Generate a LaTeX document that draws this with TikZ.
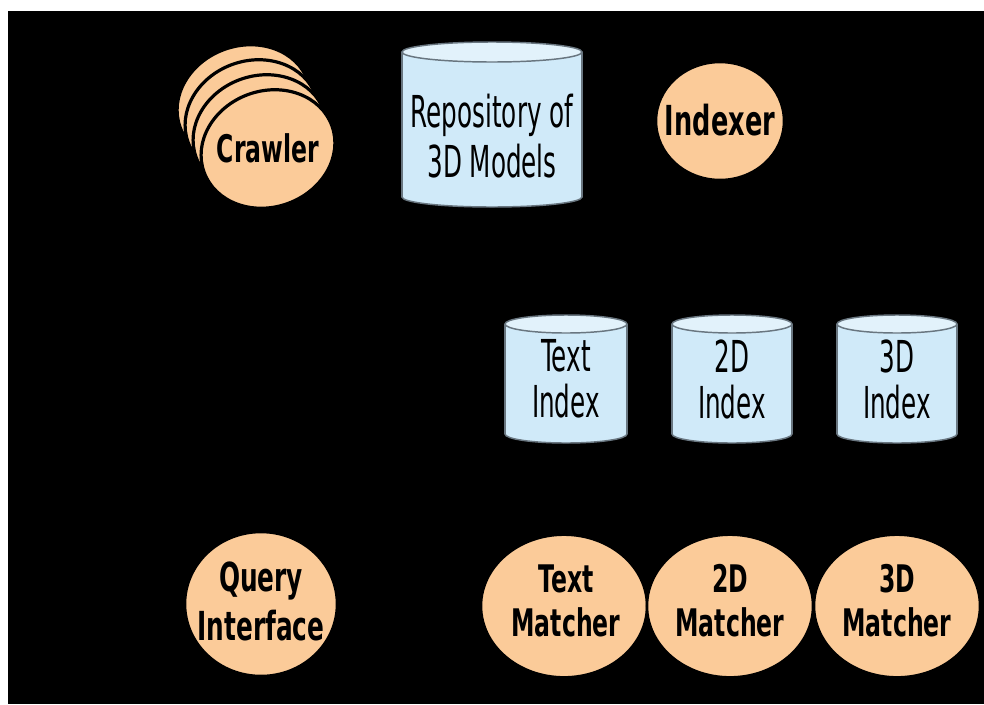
\documentclass[tikz,border=0pt]{standalone}
\usepackage{fontspec}
\usetikzlibrary{shapes.geometric}
\newfontfamily\procfont{DejaVu Sans}[FakeStretch=0.62]
\newfontfamily\storefont{DejaVu Sans}[FakeStretch=0.56]
\definecolor{peach}{RGB}{251,203,153}
\definecolor{icebody}{RGB}{208,234,249}
\definecolor{icetop}{RGB}{226,242,251}
\definecolor{icerim}{RGB}{105,118,128}
\tikzset{
  proc/.style={ellipse, fill=peach, draw=black, line width=1.9pt, inner sep=0pt},
  stackedge/.style={fill=peach, draw=black, line width=2.4pt},
  proctext/.style={align=center, text=black},
  storetext/.style={align=center, text=black, inner sep=0pt},
  rim/.style={draw=icerim, line width=1.1pt},
}
% database drawn as a cylinder: cx, top cap centre y, half width, bottom cap centre y, cap radius
\newcommand\storecyl[5]{%
  \filldraw[fill=icebody, rim] (#1,#4) ellipse [x radius=#3*0.75pt, y radius=#5*0.75pt];
  \fill[icebody] (#1-#3,#2) rectangle (#1+#3,#4);
  \draw[rim] (#1-#3,#2) -- (#1-#3,#4);
  \draw[rim] (#1+#3,#2) -- (#1+#3,#4);
  \filldraw[fill=icetop, rim] (#1,#2) ellipse [x radius=#3*0.75pt, y radius=#5*0.75pt];
}
% one tilted disc of the crawler stack
\newcommand\crawldisc[2]{%
  \filldraw[stackedge, rotate around={20:(#1,#2)}] (#1,#2) ellipse [x radius=51pt, y radius=43.5pt];
}
\begin{document}
\begin{tikzpicture}[x=0.75pt, y=-0.75pt]
\fill[white] (0,0) rectangle (984,704);
\fill[black] (8,11) rectangle (984,704);
\useasboundingbox (0,0) rectangle (984,704);

% crawler stack, back to front
\crawldisc{244}{104}
\crawldisc{252}{119}
\crawldisc{260}{134}
\crawldisc{268}{149}
\node[proctext, font={\procfont\bfseries\fontsize{28.5}{34}\selectfont}] (crawler) at (268,148) {Crawler};

% model repository
\storecyl{492}{52}{90}{197}{10}
\node[storetext, font={\storefont\fontsize{33}{37.5}\selectfont}] (repo) at (492,136) {Repository of\\3D Models};

% indexer
\node[proc, minimum width=96pt, minimum height=88.5pt] (indexer) at (720,121) {};
\node[proctext, font={\procfont\bfseries\fontsize{31}{36}\selectfont}] (indexerlbl) at (720,120) {Indexer};

% index stores
\storecyl{566}{324}{61}{434}{9}
\storecyl{732}{324}{60}{434}{9}
\storecyl{897}{324}{60}{434}{9}
\node[storetext, font={\storefont\fontsize{33}{34.5}\selectfont}] (textidx) at (566,379) {Text\\Index};
\node[storetext, font={\storefont\fontsize{33}{34.5}\selectfont}] (idx2d) at (732,379) {2D\\Index};
\node[storetext, font={\storefont\fontsize{33}{34.5}\selectfont}] (idx3d) at (897,379) {3D\\Index};

% query interface and matchers
\node[proc, minimum width=114pt, minimum height=108pt] (query) at (261,604) {};
\node[proctext, font={\procfont\bfseries\fontsize{30}{36.75}\selectfont}] (querylbl) at (261,601) {Query\\Interface};

\node[proc, minimum width=124.5pt, minimum height=107pt] (textm) at (564,606) {};
\node[proc, minimum width=124.5pt, minimum height=107pt] (m2d) at (730,606) {};
\node[proc, minimum width=124.5pt, minimum height=107pt] (m3d) at (897,606) {};
\node[proctext, font={\procfont\bfseries\fontsize{28.5}{33}\selectfont}] (textmlbl) at (566,601) {Text\\Matcher};
\node[proctext, font={\procfont\bfseries\fontsize{28.5}{33}\selectfont}] (m2dlbl) at (730,601) {2D\\Matcher};
\node[proctext, font={\procfont\bfseries\fontsize{28.5}{33}\selectfont}] (m3dlbl) at (897,601) {3D\\Matcher};
\end{tikzpicture}
\end{document}
